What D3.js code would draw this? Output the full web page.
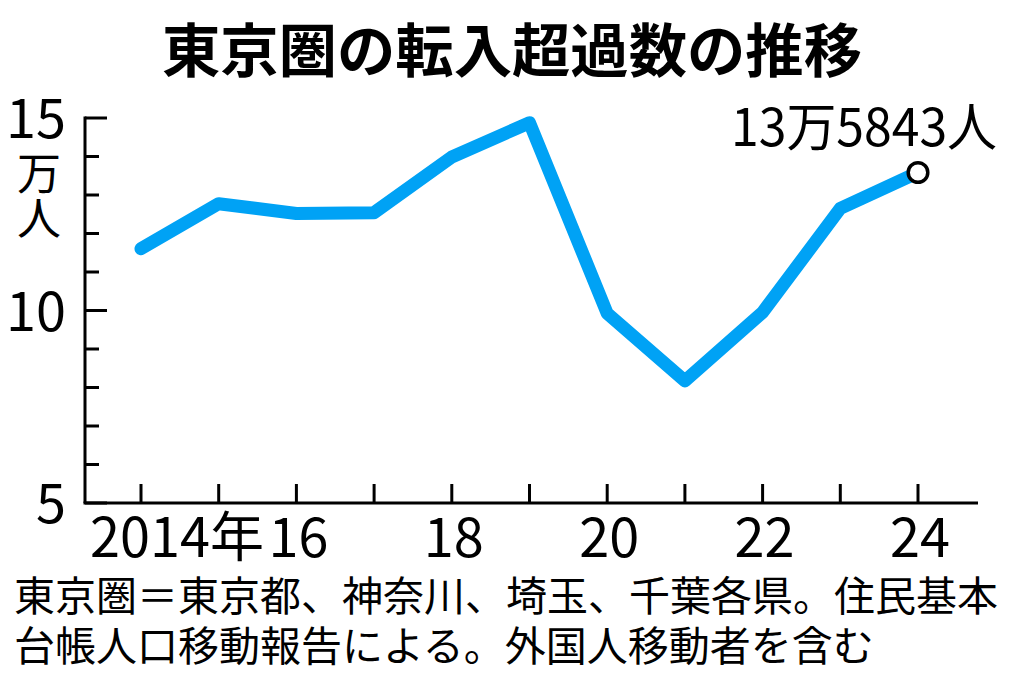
<!DOCTYPE html>
<html><head><meta charset="utf-8">
<script src="https://cdn.jsdelivr.net/npm/d3@7"></script>
<style>
html,body{margin:0;padding:0;background:#fff;}
svg{display:block;}
text{font-family:"Noto Sans CJK JP","Noto Sans CJK SC",sans-serif;fill:#000;}
</style></head>
<body>
<svg id="chart" width="1024" height="681"></svg>
<script>
const title = "東京圏の転入超過数の推移";
const years = [2014,2015,2016,2017,2018,2019,2020,2021,2022,2023,2024];
const values = [11.6061,12.7736,12.5209,12.5418,13.9868,14.8783,9.9243,8.1699,9.9519,12.6515,13.5843]; // 万人
const xTickLabels = [{year:2014,label:"2014年"},{year:2016,label:"16"},{year:2018,label:"18"},{year:2020,label:"20"},{year:2022,label:"22"},{year:2024,label:"24"}];
const yMajorTicks = [5,10,15];
const yMinorTicks = [6,7,8,9,11,12,13,14];
const yUnit = ["万","人"];
const lastLabel = "13万5843人";
const notes = ["東京圏＝東京都、神奈川、埼玉、千葉各県。住民基本","台帳人口移動報告による。外国人移動者を含む"];

const svg = d3.select("#chart");
const x = d3.scaleLinear().domain([2014,2024]).range([141,918]);
const y = d3.scaleLinear().domain([5,15]).range([503,118]);
const axisX0 = 85, axisX1 = 978;

// title
svg.append("text").attr("x",512).attr("y",72).attr("text-anchor","middle")
  .attr("font-size",58).attr("font-weight",700)
  .attr("textLength",700).attr("lengthAdjust","spacingAndGlyphs").text(title);

// y axis
const gy = svg.append("g").attr("stroke","#000").attr("stroke-width",3);
gy.append("line").attr("x1",axisX0).attr("x2",axisX0).attr("y1",y(15)-1.5).attr("y2",y(5));
gy.selectAll("line.maj").data(yMajorTicks).join("line").attr("class","maj")
  .attr("x1",axisX0).attr("x2",axisX0+22).attr("y1",d=>y(d)).attr("y2",d=>y(d));
gy.selectAll("line.min").data(yMinorTicks).join("line").attr("class","min")
  .attr("x1",axisX0).attr("x2",axisX0+14).attr("y1",d=>y(d)).attr("y2",d=>y(d));
svg.selectAll("text.ylab").data(yMajorTicks).join("text").attr("class","ylab")
  .attr("x",66).attr("y",d=>y(d)+20).attr("text-anchor","end").attr("font-size",54).text(d=>d);
const unitText = svg.append("text").attr("font-size",44).attr("text-anchor","middle");
unitText.selectAll("tspan").data(yUnit).join("tspan")
  .attr("x",39).attr("y",(d,i)=>190+i*45).text(d=>d);

// x axis
const gx = svg.append("g").attr("stroke","#000").attr("stroke-width",3);
gx.append("line").attr("x1",axisX0-1.5).attr("x2",axisX1).attr("y1",y(5)).attr("y2",y(5));
gx.selectAll("line.xt").data(years).join("line").attr("class","xt")
  .attr("x1",d=>x(d)).attr("x2",d=>x(d)).attr("y1",y(5)).attr("y2",y(5)-19);
svg.selectAll("text.xlab").data(xTickLabels).join("text").attr("class","xlab")
  .attr("x",d=>d.year===2014 ? x(d.year)-51 : x(d.year)+2)
  .attr("text-anchor",d=>d.year===2014 ? "start" : "middle")
  .attr("y",557).attr("font-size",54).text(d=>d.label);

// line
const line = d3.line().x((d,i)=>x(years[i])).y(d=>y(d));
svg.append("path").datum(values).attr("d",line).attr("fill","none")
  .attr("stroke","#00a2f5").attr("stroke-width",13)
  .attr("stroke-linecap","round").attr("stroke-linejoin","round");

// end marker
const li = values.length-1;
svg.append("circle").attr("cx",x(years[li])).attr("cy",y(values[li])).attr("r",9.8)
  .attr("fill","#fff").attr("stroke","#000").attr("stroke-width",3.5);
svg.append("text").attr("x",731).attr("y",146).attr("font-size",52)
  .attr("textLength",266).attr("lengthAdjust","spacingAndGlyphs").text(lastLabel);

// notes
const noteText = svg.append("text").attr("font-size",41);
noteText.selectAll("tspan").data(notes).join("tspan")
  .attr("x",14).attr("y",(d,i)=>611+i*50).text(d=>d);
</script>
</body></html>
